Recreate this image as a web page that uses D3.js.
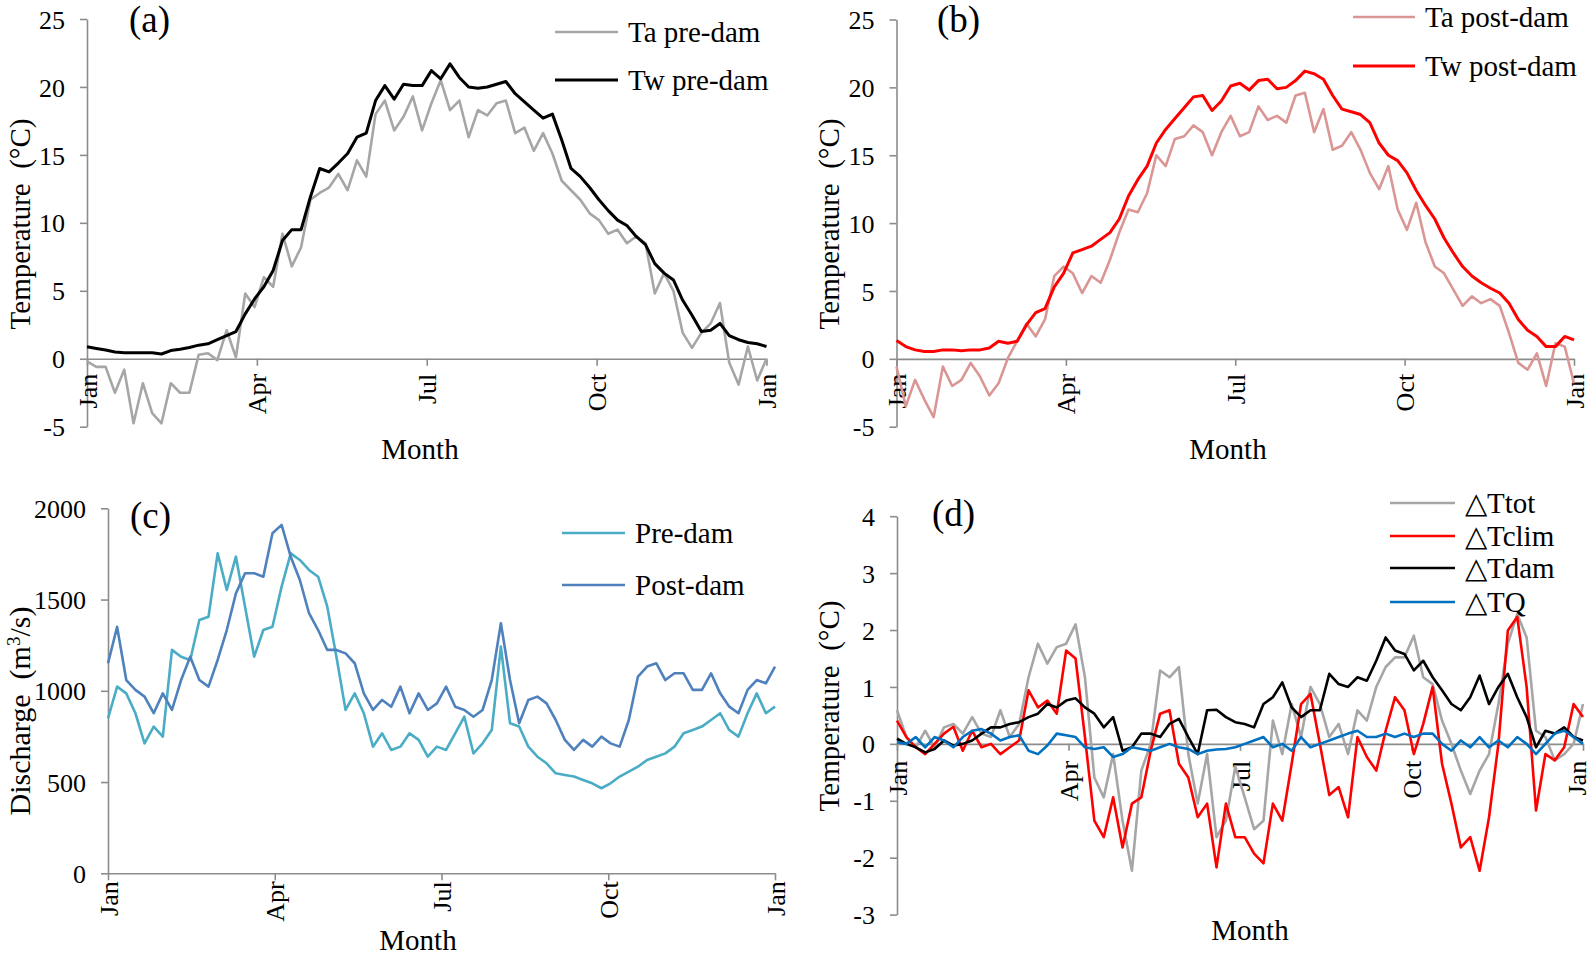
<!DOCTYPE html>
<html><head><meta charset="utf-8">
<script src="https://cdn.jsdelivr.net/npm/d3@7"></script>
<style>
body{margin:0;background:#fff}
text{font-family:"Liberation Serif","Times New Roman",serif;fill:#000}
</style>
</head><body>
<svg id="chart" width="1594" height="955"></svg>
<script>
// ---------- data (values every 5 days, day 0 .. 365) ----------
const days = d3.range(0, 366, 5);
const monthTicks = [0, 91.25, 182.5, 273.75, 365];
const monthLabels = ["Jan", "Apr", "Jul", "Oct", "Jan"];
const tempTicks = [-5, 0, 5, 10, 15, 20, 25];
const qTicks = [0, 500, 1000, 1500, 2000];
const deltaTicks = [-3, -2, -1, 0, 1, 2, 3, 4];

const taPre = [-0.2,-0.6,-0.6,-2.5,-0.8,-4.75,-1.8,-4.0,-4.75,-1.8,-2.5,-2.5,0.3,0.4,-0.1,2.1,0.1,4.8,3.8,6.0,5.3,9.2,6.8,8.2,11.7,12.2,12.6,13.6,12.4,14.6,13.4,18.0,19.0,16.8,17.8,19.3,16.8,18.8,20.5,18.3,19.0,16.3,18.3,17.9,18.8,19.0,16.6,17.0,15.3,16.6,15.1,13.1,12.4,11.7,10.7,10.2,9.2,9.5,8.5,9.0,8.5,4.8,6.3,5.0,1.9,0.8,1.9,2.6,4.1,-0.3,-1.9,0.9,-1.6,0];
const twPre = [0.88,0.76,0.64,0.5,0.44,0.44,0.44,0.44,0.35,0.6,0.7,0.83,1.0,1.1,1.4,1.7,2.0,3.3,4.4,5.3,6.5,8.7,9.5,9.5,11.9,14.0,13.75,14.4,15.1,16.3,16.6,19.0,20.1,19.1,20.2,20.1,20.1,21.2,20.6,21.7,20.7,20.0,19.9,20.0,20.2,20.4,19.5,18.9,18.3,17.7,18.0,16.1,14.0,13.4,12.6,11.7,10.9,10.2,9.8,9.0,8.4,7.0,6.3,5.8,4.3,3.2,2.0,2.1,2.6,1.7,1.4,1.2,1.1,0.9];
const taPost = [-0.57,-3.5,-1.55,-3.0,-4.3,-0.57,-2.0,-1.55,-0.3,-1.3,-2.7,-1.8,0.05,1.3,2.6,1.65,2.9,6.1,6.8,6.3,4.85,6.1,5.6,7.3,9.3,11.0,10.8,12.2,15.0,14.2,16.2,16.4,17.2,16.7,15.0,16.7,17.9,16.4,16.7,18.6,17.6,17.9,17.4,19.4,19.6,16.7,18.4,15.4,15.7,16.7,15.4,13.7,12.5,14.2,11.0,9.5,11.5,8.6,6.8,6.3,5.1,3.9,4.6,4.1,4.4,3.9,1.9,-0.3,-0.8,0.4,-2.0,1.15,0.9,-1.8];
const twPost = [1.35,0.9,0.66,0.54,0.54,0.66,0.66,0.6,0.66,0.66,0.8,1.3,1.15,1.3,2.5,3.4,3.7,5.3,6.3,7.8,8.05,8.3,8.8,9.3,10.3,12.0,13.2,14.2,15.9,16.9,17.7,18.5,19.3,19.4,18.3,19.0,20.1,20.3,19.8,20.5,20.6,19.9,20.0,20.5,21.2,21.0,20.6,19.4,18.4,18.2,18.0,17.4,15.9,15.0,14.6,13.7,12.4,11.3,10.3,8.9,7.8,6.8,6.1,5.6,5.2,4.85,4.1,2.9,2.1,1.65,0.9,0.9,1.65,1.4];
const qPre = [849,1023,986,877,712,804,749,1224,1187,1169,1388,1406,1753,1553,1735,1461,1187,1333,1351,1571,1753,1717,1662,1625,1461,1187,895,986,877,694,767,676,694,767,731,639,694,676,767,858,657,712,785,1242,822,804,694,639,603,548,539,530,511,493,466,493,530,557,584,621,639,657,694,767,785,804,840,877,785,749,877,986,877,913];
const qPost = [1151,1350,1059,1005,968,877,986,895,1059,1187,1059,1023,1169,1333,1534,1644,1644,1625,1863,1909,1735,1607,1425,1333,1224,1224,1205,1151,986,895,950,913,1023,877,986,895,931,1023,913,895,858,895,1059,1370,1059,822,950,968,931,840,731,676,731,694,749,712,694,840,1078,1133,1151,1059,1096,1096,1005,1005,1096,986,913,877,1005,1059,1041,1133];
const dTot = [0.59,0.12,-0.06,0.23,-0.06,0.29,0.35,0.18,0.47,0.18,0.12,0.59,0.12,0.35,1.17,1.76,1.41,1.7,1.76,2.1,1.17,-0.59,-0.94,-0.18,-1.35,-2.23,-0.47,0,1.29,1.17,1.35,-0.18,-1.05,-0.18,-1.64,-1.35,-0.4,-0.94,-1.5,-1.35,0.41,-0.18,0.7,0.12,1.0,0.7,0.12,0.35,-0.18,0.59,0.41,1.0,1.35,1.52,1.52,1.9,1.17,1.05,0.41,0,-0.47,-0.88,-0.47,-0.18,0.7,1.76,2.28,1.87,0.23,0.12,-0.29,-0.18,0,0.7];
const dClim = [0.41,0.12,-0.06,-0.18,0,0.18,0.3,-0.12,0.23,-0.06,0,-0.18,-0.06,0.06,0.94,0.64,0.76,0.53,1.64,1.5,0.12,-1.35,-1.64,-0.94,-1.82,-1.05,-0.94,-0.12,0.53,0.59,-0.35,-0.59,-1.29,-1.05,-2.17,-1.05,-1.64,-1.64,-1.93,-2.1,-1.05,-1.35,-0.35,0.7,0.88,0,-0.9,-0.76,-1.29,0.12,-0.23,-0.47,0.23,0.82,0.59,-0.18,0.35,1.0,-0.35,-1.05,-1.82,-1.64,-2.23,-1.29,0,1.99,2.23,1.0,-1.17,-0.18,-0.29,-0.06,0.7,0.47];
const dDam = [0.09,0,-0.06,-0.15,-0.09,0.06,-0.03,0,0.06,0.18,0.29,0.29,0.35,0.38,0.47,0.53,0.7,0.64,0.76,0.8,0.64,0.53,0.29,0.47,-0.12,-0.06,0.18,0.18,0.12,0.35,0.44,0.12,-0.18,0.59,0.6,0.47,0.38,0.35,0.29,0.7,0.82,1.08,0.64,0.47,0.59,0.59,1.23,1.05,1.0,1.17,1.11,1.46,1.87,1.64,1.58,1.29,1.46,1.17,0.94,0.7,0.59,0.82,1.2,0.7,1.0,1.23,0.82,0.47,-0.06,0.23,0.18,0.29,0.12,0.06];
const dQ = [0.03,0,0.12,-0.06,0.12,0.06,-0.06,0.12,0.23,0.26,0.18,0.06,0.12,0.15,-0.12,-0.18,-0.03,0.18,0.15,0.12,-0.06,-0.09,-0.06,-0.23,-0.18,-0.06,-0.09,-0.12,-0.06,0,-0.06,-0.09,-0.18,-0.12,-0.1,-0.09,-0.06,0,0.06,0.12,-0.06,0,-0.12,0.12,-0.06,0,0.06,0.12,0.18,0.23,0.12,0.12,0.18,0.12,0.18,0.12,0.18,0.18,0,-0.12,0.06,-0.06,0.12,-0.06,0.06,-0.06,0.12,0,-0.18,0,0.18,0.23,0.12,0];

// ---------- drawing ----------
const svg = d3.select("#chart");
svg.append("rect").attr("width", 1594).attr("height", 955).attr("fill", "#fff");
const axisColor = "#8c8c8c";
const serif = '"Liberation Serif","Times New Roman",serif';

function panel(o) {
  const x = d3.scaleLinear().domain([0, 365]).range([o.x0, o.x1]);
  const y = d3.scaleLinear().domain(o.yDomain).range([o.yb, o.yt]);
  const g = svg.append("g");

  // y axis
  const gy = g.append("g").attr("transform", `translate(${o.x0},0)`)
    .call(d3.axisLeft(y).tickValues(o.yTicks).tickSize(7).tickSizeOuter(0).tickFormat(d => String(d)))
    .attr("font-family", serif).attr("font-size", 26);
  gy.select(".domain").attr("stroke", axisColor).attr("stroke-width", 1.6);
  gy.selectAll(".tick line").attr("stroke", axisColor).attr("stroke-width", 1.6);
  gy.selectAll(".tick text").attr("x", -22).attr("dy", "0.35em")
    .style("font-family", serif).style("font-size", "26px").attr("fill", "#000");

  // x axis (at y = 0)
  const gx = g.append("g").attr("transform", `translate(0,${y(0)})`)
    .call(d3.axisBottom(x).tickValues(monthTicks).tickSize(7).tickSizeOuter(0).tickFormat((d, i) => monthLabels[i]))
    .attr("font-family", serif).attr("font-size", 26);
  gx.select(".domain").attr("stroke", axisColor).attr("stroke-width", 1.6);
  gx.selectAll(".tick line").attr("stroke", axisColor).attr("stroke-width", 1.6);
  gx.selectAll(".tick text").attr("transform", "rotate(-90)").attr("x", -o.labOff).attr("y", 0)
    .attr("dy", (d, i) => (i === monthTicks.length - 1 && o.lastDy != null) ? o.lastDy : "0.35em")
    .attr("text-anchor", "end")
    .style("font-family", serif).style("font-size", "26px").attr("fill", "#000");

  // series
  const line = d3.line().x((d, i) => x(days[i])).y(d => y(d));
  o.series.forEach(s => {
    g.append("path").datum(s.values).attr("d", line).attr("fill", "none")
      .attr("stroke", s.color).attr("stroke-width", s.w).attr("stroke-linejoin", "round");
  });

  // legend
  o.series.forEach((s, i) => {
    const ly = o.legY[i];
    g.append("line").attr("x1", o.legX).attr("x2", o.legX + o.legLen).attr("y1", ly).attr("y2", ly)
      .attr("stroke", s.color).attr("stroke-width", s.w);
    g.append("text").attr("x", o.legX + o.legLen + 10).attr("y", ly).attr("dy", "0.35em")
      .style("font-size", "29px").text(s.name);
  });

  // titles
  g.append("text").attr("x", o.panelX).attr("y", o.panelY).attr("dy", "0.35em")
    .style("font-size", "37px").text(o.panel);
  g.append("text").attr("x", o.monthX).attr("y", o.monthY).attr("dy", "0.35em")
    .attr("text-anchor", "middle").style("font-size", "29px").text("Month");
  g.append("text").attr("transform", `translate(${o.ytX},${o.ytY}) rotate(-90)`)
    .attr("dy", "0.35em").attr("text-anchor", "middle").style("font-size", o.ytSize + "px")
    .html(o.yTitle);
}

panel({
  x0: 87, x1: 766.5, yb: 426.7, yt: 19, yDomain: [-5, 25], yTicks: tempTicks, labOff: 15,
  series: [
    {name: "Ta pre-dam", values: taPre, color: "#a6a6a6", w: 2.6},
    {name: "Tw pre-dam", values: twPre, color: "#000000", w: 3}
  ],
  legX: 555, legLen: 63, legY: [32, 80],
  panel: "(a)", panelX: 129, panelY: 19,
  monthX: 420, monthY: 449, ytX: 20, ytY: 224, ytSize: 29, yTitle: "Temperature&#160;&#160;(°C)"
});

panel({
  x0: 896.5, x1: 1574, yb: 426.7, yt: 19.5, yDomain: [-5, 25], yTicks: tempTicks, labOff: 15,
  series: [
    {name: "Ta post-dam", values: taPost, color: "#d99694", w: 2.6},
    {name: "Tw post-dam", values: twPost, color: "#ff0000", w: 3}
  ],
  legX: 1353, legLen: 62, legY: [17, 66],
  panel: "(b)", panelX: 937, panelY: 19,
  monthX: 1228, monthY: 449, ytX: 829, ytY: 224, ytSize: 29, yTitle: "Temperature&#160;&#160;(°C)"
});

panel({
  x0: 108, x1: 775, yb: 873.3, yt: 508.3, yDomain: [0, 2000], yTicks: qTicks, labOff: 8,
  series: [
    {name: "Pre-dam", values: qPre, color: "#4bacc6", w: 2.6},
    {name: "Post-dam", values: qPost, color: "#4f81bd", w: 2.6}
  ],
  legX: 562, legLen: 63, legY: [533, 585],
  panel: "(c)", panelX: 130, panelY: 515,
  monthX: 418, monthY: 940, ytX: 19, ytY: 711, ytSize: 30,
  yTitle: "Discharge&#160;&#160;(m<tspan dy='-10' font-size='19'>3</tspan><tspan dy='10'>/s)</tspan>"
});

panel({
  x0: 897, x1: 1583, yb: 914.6, yt: 516.2, yDomain: [-3, 4], yTicks: deltaTicks, labOff: 17, lastDy: "0.1em",
  series: [
    {name: "△Ttot", values: dTot, color: "#a6a6a6", w: 2.6},
    {name: "△Tclim", values: dClim, color: "#ff0000", w: 2.6},
    {name: "△Tdam", values: dDam, color: "#000000", w: 2.6},
    {name: "△TQ", values: dQ, color: "#0070c0", w: 2.6}
  ],
  legX: 1390, legLen: 65, legY: [503, 536, 568, 602],
  panel: "(d)", panelX: 932, panelY: 513,
  monthX: 1250, monthY: 930, ytX: 829, ytY: 706, ytSize: 29, yTitle: "Temperature&#160;&#160;(°C)"
});
</script>
</body></html>
